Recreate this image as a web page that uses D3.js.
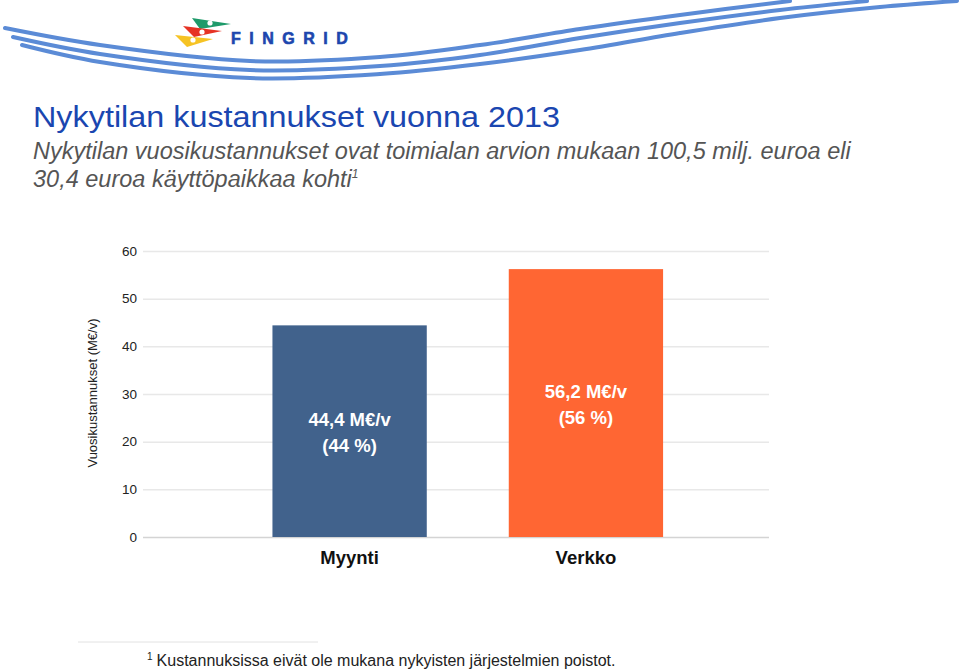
<!DOCTYPE html>
<html>
<head>
<meta charset="utf-8">
<script src="https://cdn.jsdelivr.net/npm/d3@7"></script>
<style>
  body { margin: 0; background: #fff; }
  svg { display: block; font-family: "Liberation Sans", Arial, Helvetica, sans-serif; }
</style>
</head>
<body>
<div id="chart"></div>
<script>
// chart data
const categories = ["Myynti", "Verkko"];
const values = [44.4, 56.2];
const valueLabels = ["44,4 M€/v", "56,2 M€/v"];
const shareLabels = ["(44 %)", "(56 %)"];
const barColors = ["#41628c", "#ff6633"];
const yTicks = [0, 10, 20, 30, 40, 50, 60];

const width = 960, height = 671;
const margin = { top: 251, right: 191, bottom: 134, left: 143 };

const svg = d3.select("#chart")
  .append("svg")
  .attr("width", width)
  .attr("height", height);

// ---- header decoration (logo + swooshes)
const swooshes = [
  [[5, 28], [100, 45], [250, 61], [380, 57], [480, 45], [580, 29], [680, 15], [790, 1]],
  [[13, 37], [100, 54], [250, 70], [380, 66], [480, 55], [580, 38], [680, 23], [780, 10], [867, 1]],
  [[22, 45], [100, 62], [250, 78], [380, 74], [480, 64], [580, 50], [680, 33], [780, 18], [880, 7], [957, 1]]
];
const swooshLine = d3.line().curve(d3.curveCatmullRom);
svg.append("g")
  .selectAll("path")
  .data(swooshes)
  .join("path")
    .attr("d", swooshLine)
    .attr("fill", "none")
    .attr("stroke", "#5b8bd6")
    .attr("stroke-width", 4)
    .attr("stroke-linecap", "round");

const flags = [
  { pts: [[192, 18], [231, 24], [200, 29]], color: "#1e9a6a", dot: [210, 23] },
  { pts: [[183, 26], [222, 31], [194, 37]], color: "#e63324", dot: [202, 32] },
  { pts: [[175, 35], [213, 39], [187, 47]], color: "#f6c324", dot: [193, 40] }
];
const logo = svg.append("g");
flags.forEach(f => {
  logo.append("path")
    .attr("d", "M" + f.pts.join("L") + "Z")
    .attr("fill", f.color);
  logo.append("circle")
    .attr("cx", f.dot[0]).attr("cy", f.dot[1]).attr("r", 2.6)
    .attr("fill", "#fff");
});
logo.append("text")
  .attr("x", 231)
  .attr("y", 43.5)
  .attr("font-size", 16)
  .attr("font-weight", "bold")
  .attr("letter-spacing", 8.5)
  .attr("stroke", "#1d46ae")
  .attr("stroke-width", 0.6)
  .attr("fill", "#1d46ae")
  .text("FINGRID");

// ---- titles
svg.append("text")
  .attr("x", 33)
  .attr("y", 127)
  .attr("font-size", 30)
  .attr("textLength", 527)
  .attr("lengthAdjust", "spacingAndGlyphs")
  .attr("fill", "#1a46b0")
  .text("Nykytilan kustannukset vuonna 2013");

const sub = svg.append("text")
  .attr("font-size", 23.5)
  .attr("font-style", "italic")
  .attr("fill", "#555");
sub.append("tspan")
  .attr("x", 33).attr("y", 159)
  .text("Nykytilan vuosikustannukset ovat toimialan arvion mukaan 100,5 milj. euroa eli");
sub.append("tspan")
  .attr("x", 33).attr("y", 187)
  .text("30,4 euroa käyttöpaikkaa kohti");
sub.append("tspan")
  .attr("font-size", 12)
  .attr("dy", -9)
  .text("1");

// ---- chart
const x = d3.scaleBand()
  .domain(categories)
  .range([margin.left, width - margin.right])
  .paddingInner(0.347)
  .paddingOuter(0.498)
  .align(0.55);

const y = d3.scaleLinear()
  .domain([0, 60])
  .range([height - margin.bottom, margin.top]);

const yAxis = d3.axisLeft(y)
  .tickValues(yTicks)
  .tickSize(-(width - margin.right - margin.left))
  .tickPadding(6)
  .tickFormat(d3.format("d"));

svg.append("g")
  .attr("class", "y axis")
  .attr("transform", "translate(" + margin.left + ",0)")
  .call(yAxis)
  .call(g => g.select(".domain").remove())
  .call(g => g.selectAll(".tick line")
    .attr("stroke", d => d === 0 ? "#d4d4d4" : "#e8e8e8")
    .attr("stroke-width", 1.5))
  .call(g => g.selectAll(".tick text")
    .attr("font-size", 13.5)
    .attr("fill", "#222"));

svg.append("text")
  .attr("transform", "translate(97,393) rotate(-90)")
  .attr("text-anchor", "middle")
  .attr("font-size", 13)
  .attr("fill", "#222")
  .text("Vuosikustannukset (M€/v)");

const bars = svg.append("g")
  .selectAll("g")
  .data(categories)
  .join("g");

bars.append("rect")
  .attr("x", d => x(d))
  .attr("y", (d, i) => y(values[i]))
  .attr("width", x.bandwidth())
  .attr("height", (d, i) => y(0) - y(values[i]))
  .attr("fill", (d, i) => barColors[i]);

const labels = bars.append("text")
  .attr("text-anchor", "middle")
  .attr("font-size", 18.5)
  .attr("font-weight", "bold")
  .attr("fill", "#fff");
labels.append("tspan")
  .attr("x", d => x(d) + x.bandwidth() / 2)
  .attr("y", (d, i) => (y(values[i]) + y(0)) / 2 - 5)
  .text((d, i) => valueLabels[i]);
labels.append("tspan")
  .attr("x", d => x(d) + x.bandwidth() / 2)
  .attr("y", (d, i) => (y(values[i]) + y(0)) / 2 + 21)
  .text((d, i) => shareLabels[i]);

bars.append("text")
  .attr("x", d => x(d) + x.bandwidth() / 2)
  .attr("y", 564)
  .attr("text-anchor", "middle")
  .attr("font-size", 18.5)
  .attr("font-weight", "bold")
  .attr("fill", "#111")
  .text(d => d);

// ---- footnote
svg.append("line")
  .attr("x1", 78).attr("x2", 318)
  .attr("y1", 642).attr("y2", 642)
  .attr("stroke", "#e2e2e2");

const foot = svg.append("text")
  .attr("x", 147)
  .attr("y", 666)
  .attr("font-size", 16)
  .attr("fill", "#222");
foot.append("tspan")
  .attr("font-size", 10)
  .attr("dy", -6)
  .text("1");
foot.append("tspan")
  .attr("dx", 4)
  .attr("dy", 6)
  .text("Kustannuksissa eivät ole mukana nykyisten järjestelmien poistot.");
</script>
</body>
</html>
